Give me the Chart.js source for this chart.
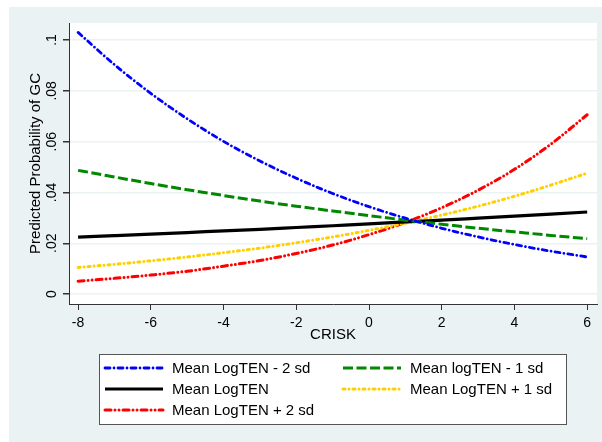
<!DOCTYPE html>
<html>
<head>
<meta charset="utf-8">
<script src="https://cdn.jsdelivr.net/npm/chart.js@4.4.0/dist/chart.umd.min.js"></script>
<style>
  html, body { margin: 0; padding: 0; background: #fff; }
  #wrap { width: 602px; height: 442px; }
</style>
</head>
<body>
<div id="wrap"><canvas id="gcChart" width="602" height="442"></canvas></div>
<script>
// CRISK values and predicted probabilities
const crisk = [-8, -7, -6, -5, -4, -3, -2, -1, 0, 1, 2, 3, 4, 5, 6];
const meanMinus2sd = [0.1030, 0.0903, 0.0790, 0.0690, 0.0601, 0.0524, 0.0456, 0.0396, 0.0344, 0.0299, 0.0259, 0.0225, 0.0195, 0.0169, 0.0146];
const meanMinus1sd = [0.0487, 0.0461, 0.0435, 0.0411, 0.0388, 0.0366, 0.0346, 0.0327, 0.0309, 0.0291, 0.0275, 0.0259, 0.0245, 0.0231, 0.0218];
const meanLogTen   = [0.0224, 0.0230, 0.0236, 0.0242, 0.0249, 0.0255, 0.0262, 0.0269, 0.0276, 0.0284, 0.0291, 0.0299, 0.0307, 0.0315, 0.0323];
const meanPlus1sd  = [0.0105, 0.0117, 0.0131, 0.0146, 0.0163, 0.0181, 0.0202, 0.0225, 0.0251, 0.0279, 0.0311, 0.0346, 0.0385, 0.0429, 0.0476];
const meanPlus2sd  = [0.0051, 0.0062, 0.0075, 0.0090, 0.0110, 0.0132, 0.0160, 0.0193, 0.0234, 0.0282, 0.0340, 0.0409, 0.0491, 0.0590, 0.0706];

const seriesLabels = ['Mean LogTEN - 2 sd', 'Mean logTEN - 1 sd', 'Mean LogTEN', 'Mean LogTEN + 1 sd', 'Mean LogTEN + 2 sd'];
const xTicks = [-8, -6, -4, -2, 0, 2, 4, 6];
const xTickLabels = ['-8', '-6', '-4', '-2', '0', '2', '4', '6'];
const yTicks = [0, 0.02, 0.04, 0.06, 0.08, 0.1];
const yTickLabels = ['0', '.02', '.04', '.06', '.08', '.1'];

const FONT = '"Liberation Sans", Arial, sans-serif';
const BLUISH = '#EAF2F3';

function pts(arr) {
    return crisk.map((x, i) => ({ x: x, y: arr[i] }));
}

function line(label, arr, color, width, dash, cap) {
    return {
        label: label,
        data: pts(arr),
        borderColor: color,
        backgroundColor: color,
        borderWidth: width,
        borderDash: dash,
        borderCapStyle: cap,
        pointRadius: 0,
        fill: false,
        cubicInterpolationMode: 'monotone'
    };
}

// Stata style backgrounds: bluish graph region, white plot region
const backgroundPlugin = {
    id: 'stataBackground',
    beforeDraw(chart) {
        const { ctx, chartArea: a } = chart;
        ctx.save();
        ctx.fillStyle = '#fff';
        ctx.fillRect(0, 0, chart.width, chart.height);
        ctx.fillStyle = BLUISH;
        ctx.fillRect(9, 7, chart.width - 9, chart.height - 7);
        ctx.fillStyle = '#fff';
        ctx.fillRect(a.left, a.top, a.right - a.left, a.bottom - a.top);
        ctx.restore();
    }
};

// Two column boxed legend under the x axis title
const boxLegendPlugin = {
    id: 'boxLegend',
    afterDraw(chart) {
        const ctx = chart.ctx;
        const box = { x: 99, y: 354, w: 467, h: 70 };
        ctx.save();
        ctx.fillStyle = '#fff';
        ctx.fillRect(box.x, box.y, box.w, box.h);
        ctx.strokeStyle = '#555';
        ctx.lineWidth = 1;
        ctx.strokeRect(box.x + 0.5, box.y + 0.5, box.w, box.h);

        const colX = [104, 342];
        const rowY = [368, 389, 410];
        const sampleLen = 59;
        ctx.font = '15px ' + FONT;
        ctx.textBaseline = 'middle';
        ctx.textAlign = 'left';
        chart.data.datasets.forEach((ds, i) => {
            const x = colX[i % 2];
            const y = rowY[Math.floor(i / 2)];
            ctx.strokeStyle = ds.borderColor;
            ctx.lineWidth = ds.borderWidth;
            ctx.lineCap = ds.borderCapStyle;
            ctx.setLineDash(ds.borderDash);
            ctx.beginPath();
            ctx.moveTo(x + 1, y);
            ctx.lineTo(x + sampleLen, y);
            ctx.stroke();
            ctx.setLineDash([]);
            ctx.fillStyle = '#000';
            ctx.fillText(ds.label, x + sampleLen + 9, y + 1);
        });
        ctx.restore();
    }
};

const ctx = document.getElementById('gcChart');

new Chart(ctx, {
    type: 'line',
    data: {
        datasets: [
            line(seriesLabels[0], meanMinus2sd, '#0000FF', 2.8, [5, 4, 0.01, 4], 'round'),
            line(seriesLabels[1], meanMinus1sd, '#008800', 3, [10, 3.5], 'butt'),
            line(seriesLabels[2], meanLogTen, '#000000', 3.2, [], 'butt'),
            line(seriesLabels[3], meanPlus1sd, '#FFD000', 3, [2, 4, 0.01, 4], 'round'),
            line(seriesLabels[4], meanPlus2sd, '#FF0000', 3, [6, 4, 0.01, 4, 0.01, 4], 'round')
        ]
    },
    options: {
        responsive: false,
        devicePixelRatio: 1,
        animation: false,
        layout: {
            padding: { top: 23, right: 5, left: 0, bottom: 0 }
        },
        scales: {
            x: {
                type: 'linear',
                min: -8.25,
                max: 6.27,
                afterBuildTicks: s => { s.ticks = xTicks.map(v => ({ value: v })); },
                afterFit: s => { s.height = 138; },
                ticks: {
                    autoSkip: false,
                    maxRotation: 0,
                    padding: 5,
                    color: '#000',
                    font: { family: FONT, size: 14 },
                    callback: (v, i) => xTickLabels[i]
                },
                grid: {
                    drawOnChartArea: false,
                    tickColor: '#333',
                    tickLength: 6
                },
                border: { display: true, color: '#333', width: 1 },
                title: {
                    display: true,
                    text: 'CRISK',
                    color: '#000',
                    font: { family: FONT, size: 15 },
                    padding: { top: 0, bottom: 98 }
                }
            },
            y: {
                type: 'linear',
                min: -0.0039,
                max: 0.1067,
                afterBuildTicks: s => { s.ticks = yTicks.map(v => ({ value: v })); },
                afterFit: s => { s.width = 69; },
                ticks: {
                    autoSkip: false,
                    minRotation: 90,
                    maxRotation: 90,
                    crossAlign: 'center',
                    padding: 1,
                    color: '#000',
                    font: { family: FONT, size: 14 },
                    callback: (v, i) => yTickLabels[i]
                },
                grid: {
                    color: BLUISH,
                    lineWidth: 1.5,
                    tickColor: '#333',
                    tickLength: 6
                },
                border: { display: true, color: '#333', width: 1 },
                title: {
                    display: true,
                    text: 'Predicted Probability of GC',
                    color: '#000',
                    font: { family: FONT, size: 15 },
                    padding: { top: 27, bottom: 0 }
                }
            }
        },
        plugins: {
            legend: { display: false },
            tooltip: { enabled: false }
        }
    },
    plugins: [backgroundPlugin, boxLegendPlugin]
});
</script>
</body>
</html>
